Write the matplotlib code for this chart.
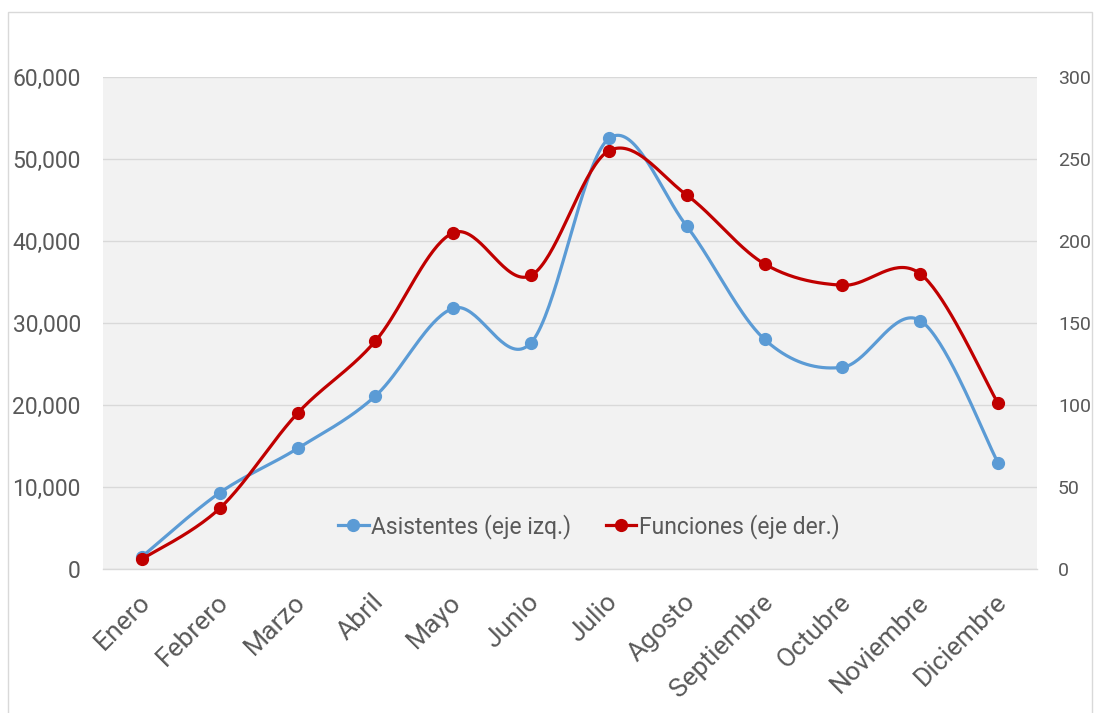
import numpy as np
import matplotlib
matplotlib.use("Agg")
import matplotlib.pyplot as plt
import matplotlib.transforms as mtransforms
from matplotlib.ticker import FuncFormatter, MultipleLocator
from matplotlib.lines import Line2D
from matplotlib.patches import Rectangle

months = ["Enero", "Febrero", "Marzo", "Abril", "Mayo", "Junio", "Julio",
          "Agosto", "Septiembre", "Octubre", "Noviembre", "Diciembre"]
asistentes = [1500, 9300, 14700, 21100, 31800, 27600, 52500,
              41800, 28000, 24600, 30300, 12950]
funciones = [6, 37, 95, 139, 205, 179, 255, 228, 186, 173, 180, 101]

label_left = "Asistentes (eje izq.)"
label_right = "Funciones (eje der.)"

BLUE = "#5B9BD5"
RED = "#C00000"
TXT = "#595959"
GRID = "#D9D9D9"

plt.rcParams['font.family'] = ['Roboto', 'DejaVu Sans']


def smooth(x, y, n=40):
    x = np.asarray(x, float)
    y = np.asarray(y, float)
    px = np.concatenate([[x[0]], x, [x[-1]]])
    py = np.concatenate([[y[0]], y, [y[-1]]])
    xs, ys = [], []
    t = np.linspace(0, 1, n)
    for i in range(1, len(px) - 2):
        p0 = np.array([px[i], py[i]])
        p3 = np.array([px[i + 1], py[i + 1]])
        c1 = p0 + (np.array([px[i + 1], py[i + 1]]) - np.array([px[i - 1], py[i - 1]])) / 6
        c2 = p3 - (np.array([px[i + 2], py[i + 2]]) - np.array([px[i], py[i]])) / 6
        b = ((1 - t) ** 3)[:, None] * p0 + (3 * (1 - t) ** 2 * t)[:, None] * c1 \
            + (3 * (1 - t) * t ** 2)[:, None] * c2 + (t ** 3)[:, None] * p3
        xs.append(b[:, 0])
        ys.append(b[:, 1])
    return np.concatenate(xs), np.concatenate(ys)


fig = plt.figure(figsize=(10.94, 7.13), dpi=100)
fig.patches.append(Rectangle((8 / 1094, -0.01), (1092 - 8) / 1094, (713 - 12) / 713 + 0.01,
                             transform=fig.transFigure, fill=False,
                             edgecolor="#D9D9D9", linewidth=1.0))

ax = fig.add_axes([103 / 1094, (713 - 569) / 713, (1037 - 103) / 1094, (569 - 77) / 713])
ax.set_facecolor("#F2F2F2")
ax2 = ax.twinx()

x = np.arange(len(months))

sx, sy = smooth(x, asistentes)
ax.plot(sx, sy, color=BLUE, lw=2.3, solid_capstyle='round', zorder=3)
ax.plot(x, asistentes, 'o', color=BLUE, ms=8.5, zorder=4)

rx, ry = smooth(x, funciones)
ax2.plot(rx, ry, color=RED, lw=2.3, solid_capstyle='round', zorder=3)
ax2.plot(x, funciones, 'o', color=RED, ms=8.5, zorder=4)

ax.set_xlim(-0.5, len(months) - 0.5)
ax.set_ylim(0, 60000)
ax2.set_ylim(0, 300)
ax.yaxis.set_major_locator(MultipleLocator(10000))
ax2.yaxis.set_major_locator(MultipleLocator(50))
ax.yaxis.set_major_formatter(FuncFormatter(lambda v, p: f"{int(v):,}"))

ax.grid(axis='y', color=GRID, lw=1.0)
ax.set_axisbelow(True)
for a in (ax, ax2):
    for s in a.spines.values():
        s.set_visible(False)
ax.spines['bottom'].set_visible(True)
ax.spines['bottom'].set_color(GRID)
ax.spines['bottom'].set_linewidth(1.0)

ax.set_xticks(x)
ax.set_xticklabels(months, rotation=45, ha='right', rotation_mode='anchor')
ax.tick_params(axis='x', length=0, pad=15, labelsize=19, labelcolor=TXT)
offset = mtransforms.ScaledTranslation(-4 / 100, 0, fig.dpi_scale_trans)
for lbl in ax.get_xticklabels():
    lbl.set_transform(lbl.get_transform() + offset)
ax.tick_params(axis='y', length=0, pad=16, labelsize=16.5, labelcolor=TXT)
ax2.tick_params(axis='y', length=0, pad=15, labelsize=14, labelcolor=TXT)

handles = [Line2D([], [], color=BLUE, lw=2.3, marker='o', ms=8.5),
           Line2D([], [], color=RED, lw=2.3, marker='o', ms=8.5)]
leg = ax2.legend(handles, [label_left, label_right], loc='center',
                 bbox_to_anchor=(0.520, 0.087), ncol=2, frameon=False,
                 fontsize=16.5, handlelength=1.35, handletextpad=0.1, columnspacing=1.5)
for t in leg.get_texts():
    t.set_color(TXT)

fig.savefig("out.png", dpi=100)
